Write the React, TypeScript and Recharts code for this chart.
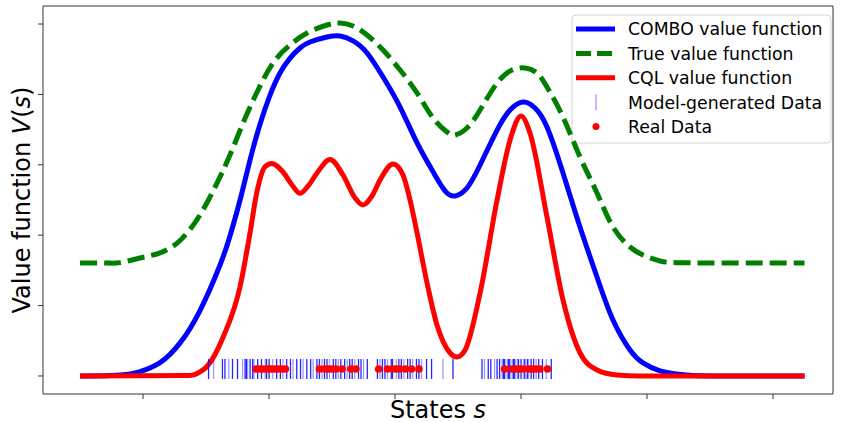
import React from "react";
import { ComposedChart, Line, Scatter, XAxis, YAxis } from "recharts";

// State axis ticks (no labels shown in the reference) and value ticks
const X_TICKS = [0, 1, 2, 3, 4, 5];
const Y_TICKS = [0, 1, 2, 3, 4, 5];

// COMBO value function
const comboX = [-0.5, -0.26, -0.1, -0.024, 0.135, 0.294, 0.452, 0.611, 0.69, 0.77, 0.849, 0.929, 1.008, 1.087, 1.167, 1.246, 1.325, 1.46, 1.563, 1.667, 1.778, 1.905, 2.04, 2.175, 2.302, 2.397, 2.476, 2.571, 2.675, 2.81, 2.913, 3.016, 3.111, 3.206, 3.333, 3.468, 3.603, 3.73, 3.865, 3.968, 4.103, 4.238, 4.365, 4.6, 4.9, 5.25];
const comboV = [0, 0.007, 0.03, 0.061, 0.19, 0.47, 0.93, 1.577, 1.989, 2.5, 3.068, 3.58, 3.991, 4.304, 4.517, 4.659, 4.744, 4.815, 4.83, 4.76, 4.588, 4.247, 3.821, 3.31, 2.9, 2.63, 2.557, 2.67, 2.997, 3.494, 3.778, 3.892, 3.807, 3.537, 2.884, 2.116, 1.406, 0.795, 0.369, 0.185, 0.071, 0.028, 0.008, 0, 0, 0];

// True value function
const trueX = [-0.5, -0.3, -0.183, -0.024, 0.135, 0.294, 0.452, 0.587, 0.69, 0.794, 0.905, 1.032, 1.167, 1.302, 1.46, 1.563, 1.667, 1.778, 1.905, 2.04, 2.175, 2.302, 2.413, 2.476, 2.571, 2.675, 2.81, 2.929, 3.032, 3.127, 3.206, 3.333, 3.468, 3.603, 3.73, 3.865, 3.968, 4.103, 4.238, 4.5, 4.9, 5.25];
const trueV = [1.605, 1.605, 1.61, 1.676, 1.75, 1.925, 2.287, 2.741, 3.139, 3.594, 4.034, 4.446, 4.702, 4.872, 4.986, 5.014, 4.972, 4.844, 4.631, 4.347, 4.02, 3.665, 3.466, 3.423, 3.523, 3.778, 4.162, 4.347, 4.375, 4.304, 4.105, 3.679, 3.111, 2.599, 2.116, 1.832, 1.719, 1.634, 1.61, 1.605, 1.605, 1.605];

// CQL value function
const cqlX = [-0.5, 0.373, 0.452, 0.506, 0.637, 0.77, 0.849, 0.902, 0.968, 1.021, 1.111, 1.183, 1.246, 1.31, 1.381, 1.484, 1.587, 1.683, 1.746, 1.817, 1.881, 1.984, 2.063, 2.119, 2.175, 2.254, 2.333, 2.437, 2.492, 2.556, 2.675, 2.81, 2.913, 3.0, 3.071, 3.206, 3.333, 3.468, 3.603, 3.762, 3.944, 5.25];
const cqlV = [0, 0.007, 0.057, 0.132, 0.558, 1.268, 2.031, 2.599, 2.973, 3.02, 2.898, 2.713, 2.595, 2.699, 2.884, 3.075, 2.855, 2.528, 2.429, 2.557, 2.784, 3.011, 2.855, 2.5, 2.031, 1.321, 0.724, 0.327, 0.27, 0.369, 1.179, 2.5, 3.352, 3.693, 3.452, 2.259, 1.08, 0.327, 0.085, 0.014, 0, 0];

// Model-generated data (rug) and real data states
const modelStates = [0.52, 0.56, 0.63, 0.65, 0.68, 0.71, 0.75, 0.79, 0.81, 0.82, 0.83, 0.85, 0.87, 0.88, 0.91, 0.94, 0.97, 0.98, 1.0, 1.03, 1.06, 1.09, 1.11, 1.14, 1.17, 1.19, 1.22, 1.25, 1.27, 1.3, 1.33, 1.35, 1.38, 1.4, 1.42, 1.44, 1.46, 1.48, 1.51, 1.53, 1.55, 1.57, 1.6, 1.62, 1.64, 1.66, 1.68, 1.71, 1.73, 1.75, 1.78, 1.86, 1.88, 1.9, 1.92, 1.94, 1.97, 1.98, 2.01, 2.03, 2.05, 2.07, 2.1, 2.12, 2.14, 2.17, 2.19, 2.21, 2.25, 2.29, 2.38, 2.46, 2.69, 2.71, 2.74, 2.76, 2.79, 2.81, 2.83, 2.85, 2.86, 2.87, 2.89, 2.9, 2.91, 2.93, 2.94, 2.95, 2.97, 2.98, 3.0, 3.02, 3.03, 3.05, 3.06, 3.08, 3.1, 3.12, 3.14, 3.17, 3.2, 3.24];
const realStates = [0.9, 0.93, 0.95, 0.98, 1.0, 1.02, 1.05, 1.07, 1.1, 1.13, 1.4, 1.44, 1.47, 1.5, 1.53, 1.58, 1.65, 1.69, 1.87, 1.94, 1.98, 2.01, 2.04, 2.08, 2.13, 2.19, 2.87, 2.93, 2.96, 2.99, 3.02, 3.06, 3.09, 3.12, 3.15, 3.21];
const RUG_LEVEL = 0.1;

const LEGEND_LABELS = ["COMBO value function", "True value function", "CQL value function", "Model-generated Data", "Real Data"];

const toPts = (xs: number[], vs: number[]) => xs.map((x, i) => ({ x, y: vs[i] }));
const comboData = toPts(comboX, comboV);
const trueData = toPts(trueX, trueV);
const cqlData = toPts(cqlX, cqlV);
const modelData = modelStates.map((x) => ({ x, y: RUG_LEVEL }));
const realData = realStates.map((x) => ({ x, y: RUG_LEVEL }));

const FONT = "DejaVu Sans";
const DASH = "17 7";
const SPINE = { stroke: "#333", strokeWidth: 1 };
const blank = () => "";

const RugLine = (p: any) => (
  <line
    x1={p.cx}
    x2={p.cx}
    y1={p.cy - 10}
    y2={p.cy + 10}
    stroke="#0000ff"
    strokeOpacity={(p.index ?? 0) % 3 === 1 ? 0.4 : 0.85}
    strokeWidth={1.3}
  />
);
const RealDot = (p: any) => <circle cx={p.cx} cy={p.cy} r={3.8} fill="#ff0000" />;

const LegendBox = () => {
  const rowY = [29, 53.4, 77.8, 102.2, 126.6];
  return (
    <g>
      <rect x={572} y={15} width={259} height={128} rx={4} fill="#ffffff" fillOpacity={0.8} stroke="#d4d4d4" />
      <line x1={576} x2={615} y1={rowY[0]} y2={rowY[0]} stroke="#0000ff" strokeWidth={5} />
      <line x1={576} x2={615} y1={rowY[1]} y2={rowY[1]} stroke="#008000" strokeWidth={5} strokeDasharray="15 6" />
      <line x1={576} x2={615} y1={rowY[2]} y2={rowY[2]} stroke="#ff0000" strokeWidth={5} />
      <line x1={596} x2={596} y1={rowY[3] - 8} y2={rowY[3] + 8} stroke="#0000ff" strokeOpacity={0.4} strokeWidth={1.3} />
      <circle cx={596} cy={rowY[4]} r={3.5} fill="#ff0000" />
      {LEGEND_LABELS.map((t, i) => (
        <text key={t} x={628} y={rowY[i] + 6.3} fontSize={17.3} fontFamily={FONT} fill="#000">
          {t}
        </text>
      ))}
    </g>
  );
};

export default function App() {
  return (
    <div style={{ position: "absolute", left: 0, top: 0, width: 846, height: 422, background: "#fff" }}>
      <ComposedChart width={846} height={422} margin={{ top: 5, right: 12, bottom: 0, left: 42 }}>
        <XAxis
          dataKey="x"
          type="number"
          domain={[-0.794, 5.476]}
          ticks={X_TICKS}
          tickFormatter={blank}
          tickSize={5}
          height={28}
          allowDataOverflow
          axisLine={SPINE}
          tickLine={SPINE}
        />
        <XAxis xAxisId="top" orientation="top" type="number" domain={[-0.794, 5.476]} ticks={X_TICKS} tickFormatter={blank} tickLine={false} height={1} axisLine={SPINE} />
        <YAxis
          dataKey="y"
          type="number"
          domain={[-0.256, 5.256]}
          ticks={Y_TICKS}
          tickFormatter={blank}
          tickSize={5}
          width={1}
          allowDataOverflow
          axisLine={SPINE}
          tickLine={SPINE}
        />
        <YAxis yAxisId="right" orientation="right" type="number" domain={[-0.256, 5.256]} ticks={Y_TICKS} tickFormatter={blank} tickLine={false} width={1} axisLine={SPINE} />
        <Line data={comboData} dataKey="y" type="natural" stroke="#0000ff" strokeWidth={5} dot={false} isAnimationActive={false} strokeLinecap="butt" />
        <Line data={trueData} dataKey="y" type="natural" stroke="#008000" strokeWidth={5} strokeDasharray={DASH} dot={false} isAnimationActive={false} strokeLinecap="butt" />
        <Line data={cqlData} dataKey="y" type="monotone" stroke="#ff0000" strokeWidth={5} dot={false} isAnimationActive={false} strokeLinecap="butt" />
        <Scatter data={modelData} dataKey="y" shape={RugLine} isAnimationActive={false} />
        <Scatter data={realData} dataKey="y" shape={RealDot} isAnimationActive={false} />
        <text transform="translate(29.5,200) rotate(-90)" textAnchor="middle" fontSize={24} fontFamily={FONT} fill="#000">
          Value function <tspan fontStyle="italic">V</tspan>(<tspan fontStyle="italic">s</tspan>)
        </text>
        <text x={438} y={417.5} textAnchor="middle" fontSize={24} fontFamily={FONT} fill="#000">
          States <tspan fontStyle="italic">s</tspan>
        </text>
        <LegendBox />
      </ComposedChart>
    </div>
  );
}
